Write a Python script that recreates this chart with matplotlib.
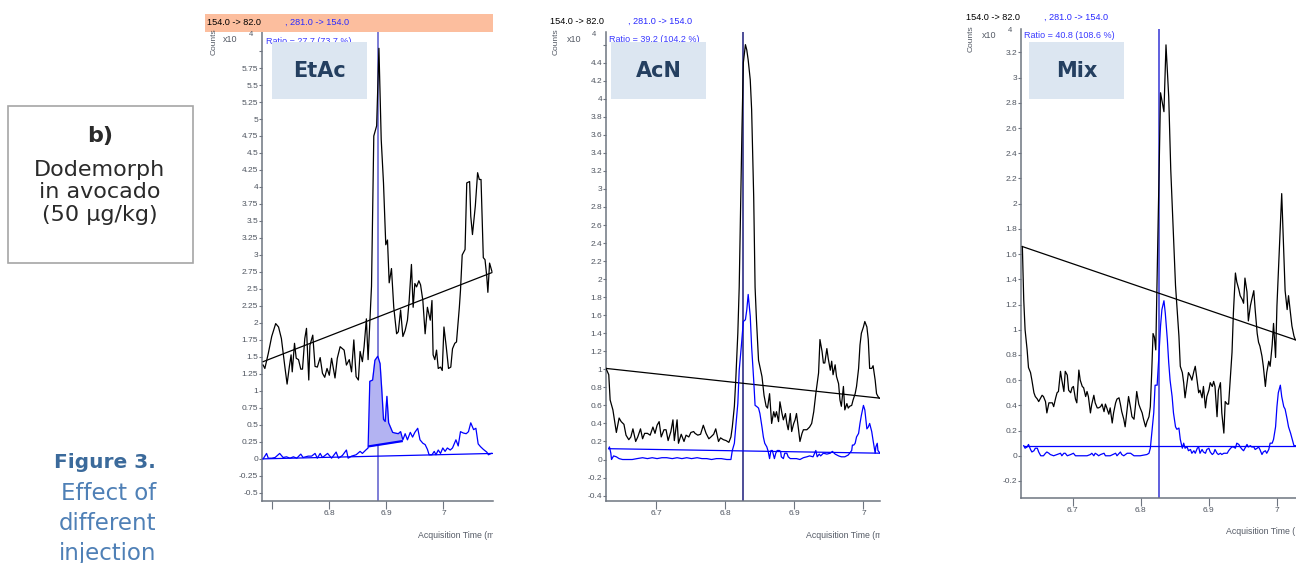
import numpy as np
import matplotlib
matplotlib.use("Agg")
import matplotlib.pyplot as plt
from matplotlib.patches import Rectangle
from matplotlib.transforms import Bbox, TransformedBbox

plt.rcParams['font.family'] = ['Liberation Sans', 'DejaVu Sans']

W, H = 1296, 563

# ---------------- data (time in min, counts x10^4) ----------------
# EtAc
etac_t = [6.684, 6.687, 6.693, 6.699, 6.706, 6.711, 6.716, 6.722, 6.726, 6.730, 6.733, 6.735, 6.739, 6.742,
          6.746, 6.750, 6.753, 6.757, 6.760, 6.764, 6.766, 6.771, 6.775, 6.779, 6.784, 6.788, 6.792, 6.796,
          6.800, 6.804, 6.810, 6.814, 6.819, 6.826, 6.830, 6.835, 6.839, 6.843, 6.847, 6.851, 6.854, 6.858,
          6.861, 6.865, 6.868, 6.874, 6.878, 6.883, 6.887, 6.891, 6.895, 6.899, 6.902, 6.905, 6.909, 6.913,
          6.918, 6.921, 6.925, 6.929, 6.933, 6.937, 6.940, 6.944, 6.947, 6.950, 6.953, 6.957, 6.960, 6.964,
          6.968, 6.972, 6.977, 6.980, 6.982, 6.985, 6.988, 6.991, 6.995, 6.998, 7.001, 7.005, 7.009, 7.013,
          7.016, 7.020, 7.023, 7.028, 7.030, 7.033, 7.038, 7.041, 7.046, 7.048, 7.051, 7.056, 7.060, 7.063,
          7.066, 7.070, 7.073, 7.076, 7.078, 7.081, 7.085]
etac_quant = [1.38, 1.33, 1.55, 1.80, 1.99, 1.94, 1.77, 1.36, 1.10, 1.36, 1.53, 1.28, 1.70, 1.48,
              1.46, 1.32, 1.32, 1.77, 1.92, 1.16, 1.67, 1.82, 1.36, 1.35, 1.49, 1.26, 1.20, 1.33,
              1.23, 1.48, 1.19, 1.48, 1.65, 1.60, 1.38, 1.46, 1.28, 1.75, 1.21, 1.16, 1.58, 1.43,
              1.65, 2.06, 1.46, 2.54, 4.75, 4.90, 6.04, 4.70, 4.06, 3.15, 3.22, 2.59, 2.80, 2.23,
              1.84, 1.87, 2.19, 1.80, 1.89, 2.04, 2.33, 2.86, 2.23, 2.58, 2.53, 2.62, 2.56, 2.33,
              1.84, 2.23, 2.04, 2.33, 1.53, 1.46, 1.60, 1.33, 1.35, 1.30, 1.94, 1.65, 1.33, 1.35,
              1.62, 1.70, 1.72, 2.23, 2.48, 3.00, 3.08, 4.06, 4.08, 3.57, 3.30, 3.72, 4.21, 4.11,
              4.11, 2.96, 2.93, 2.69, 2.45, 2.88, 2.76]
etac_qual_t = [6.684, 6.690, 6.693, 6.699, 6.705, 6.713, 6.719, 6.725, 6.731, 6.737, 6.743, 6.750, 6.754,
               6.763, 6.769, 6.775, 6.779, 6.784, 6.788, 6.797, 6.804, 6.812, 6.816, 6.823, 6.830, 6.833,
               6.839, 6.847, 6.854, 6.858, 6.864, 6.868, 6.871, 6.876, 6.880, 6.885, 6.889, 6.892, 6.895,
               6.898, 6.901, 6.904, 6.908, 6.911, 6.915, 6.921, 6.925, 6.929, 6.933, 6.937, 6.942, 6.946,
               6.950, 6.955, 6.959, 6.964, 6.968, 6.972, 6.975, 6.980, 6.984, 6.987, 6.991, 6.995, 6.999,
               7.003, 7.007, 7.012, 7.016, 7.022, 7.026, 7.030, 7.035, 7.040, 7.044, 7.048, 7.053, 7.057,
               7.061, 7.065, 7.070, 7.076, 7.079, 7.084]
etac_qual = [0.00, 0.08, 0.01, 0.01, 0.02, 0.08, 0.02, 0.03, 0.01, 0.03, 0.01, 0.07, 0.02,
             0.04, 0.04, 0.08, 0.01, 0.08, 0.02, 0.08, 0.01, 0.10, 0.01, 0.05, 0.13, 0.01,
             0.04, 0.06, 0.11, 0.08, 0.13, 0.16, 1.14, 1.16, 1.45, 1.51, 1.40, 1.01, 0.58,
             0.55, 0.92, 0.53, 0.45, 0.39, 0.38, 0.37, 0.40, 0.28, 0.37, 0.28, 0.39, 0.32,
             0.39, 0.45, 0.28, 0.23, 0.21, 0.14, 0.06, 0.06, 0.11, 0.06, 0.13, 0.08, 0.16,
             0.11, 0.16, 0.13, 0.16, 0.28, 0.19, 0.40, 0.38, 0.37, 0.40, 0.53, 0.43, 0.45,
             0.22, 0.18, 0.14, 0.10, 0.06, 0.08]
etac_base_t, etac_base = [6.684, 7.085], [1.43, 2.74]
etac_qbase_t, etac_qbase = [6.684, 7.088], [0.00, 0.08]
etac_int_t, etac_int = [6.870, 6.927], [0.185, 0.26]
etac_rt = 6.885

# AcN
acn_t = [6.627, 6.631, 6.633, 6.637, 6.640, 6.642, 6.646, 6.649, 6.653, 6.656, 6.660, 6.663, 6.666, 6.670,
         6.673, 6.677, 6.680, 6.683, 6.687, 6.691, 6.695, 6.698, 6.701, 6.704, 6.707, 6.711, 6.714, 6.717,
         6.721, 6.724, 6.726, 6.730, 6.732, 6.736, 6.740, 6.743, 6.747, 6.750, 6.754, 6.756, 6.760, 6.764,
         6.768, 6.772, 6.776, 6.779, 6.783, 6.786, 6.790, 6.793, 6.797, 6.801, 6.805, 6.808, 6.810, 6.813,
         6.815, 6.818, 6.820, 6.824, 6.826, 6.829, 6.831, 6.833, 6.836, 6.838, 6.841, 6.843, 6.845, 6.848,
         6.850, 6.853, 6.856, 6.859, 6.861, 6.864, 6.867, 6.870, 6.872, 6.874, 6.877, 6.879, 6.882, 6.884,
         6.887, 6.889, 6.891, 6.894, 6.896, 6.899, 6.901, 6.903, 6.906, 6.908, 6.911, 6.913, 6.918, 6.922,
         6.925, 6.928, 6.931, 6.935, 6.937, 6.940, 6.942, 6.944, 6.947, 6.949, 6.952, 6.954, 6.956, 6.959,
         6.961, 6.964, 6.966, 6.968, 6.971, 6.973, 6.976, 6.978, 6.980, 6.983, 6.985, 6.988, 6.990, 6.993,
         6.995, 6.997, 7.000, 7.002, 7.005, 7.007, 7.009, 7.012, 7.014, 7.017, 7.019, 7.021, 7.023]
acn_quant = [1.01, 0.94, 0.66, 0.55, 0.40, 0.30, 0.46, 0.42, 0.39, 0.27, 0.22, 0.25, 0.34, 0.20,
             0.25, 0.34, 0.23, 0.29, 0.29, 0.27, 0.36, 0.29, 0.38, 0.42, 0.25, 0.33, 0.33, 0.21,
             0.31, 0.44, 0.21, 0.44, 0.18, 0.28, 0.20, 0.27, 0.25, 0.30, 0.31, 0.29, 0.27, 0.28,
             0.38, 0.29, 0.23, 0.25, 0.28, 0.34, 0.20, 0.24, 0.22, 0.21, 0.19, 0.25, 0.36, 0.59,
             0.88, 1.40, 1.91, 3.66, 4.40, 4.60, 4.54, 4.43, 4.21, 3.88, 2.91, 1.91, 1.55, 1.10,
             1.03, 0.92, 0.71, 0.59, 0.57, 0.73, 0.40, 0.53, 0.47, 0.53, 0.42, 0.64, 0.51, 0.44,
             0.51, 0.40, 0.33, 0.51, 0.31, 0.40, 0.44, 0.51, 0.33, 0.20, 0.29, 0.33, 0.33, 0.36,
             0.40, 0.53, 0.73, 0.96, 1.33, 1.20, 1.07, 1.07, 1.23, 1.12, 0.99, 1.09, 0.94, 1.05,
             0.92, 0.84, 0.66, 0.59, 0.81, 0.55, 0.62, 0.57, 0.59, 0.60, 0.66, 0.73, 0.81, 1.01,
             1.27, 1.40, 1.47, 1.53, 1.47, 1.33, 1.01, 1.01, 1.04, 0.88, 0.73, 0.70, 0.68]
acn_qual_t = [6.631, 6.632, 6.634, 6.635, 6.638, 6.642, 6.646, 6.651, 6.658, 6.665, 6.672, 6.680, 6.687,
              6.694, 6.701, 6.708, 6.715, 6.723, 6.730, 6.737, 6.744, 6.751, 6.759, 6.766, 6.773, 6.780,
              6.787, 6.794, 6.802, 6.808, 6.810, 6.813, 6.815, 6.818, 6.820, 6.823, 6.826, 6.829, 6.831,
              6.833, 6.836, 6.838, 6.841, 6.843, 6.845, 6.848, 6.850, 6.853, 6.855, 6.857, 6.860, 6.862,
              6.864, 6.866, 6.868, 6.871, 6.873, 6.875, 6.878, 6.880, 6.881, 6.884, 6.886, 6.889, 6.891,
              6.894, 6.899, 6.903, 6.908, 6.913, 6.918, 6.922, 6.927, 6.931, 6.933, 6.936, 6.938, 6.942,
              6.947, 6.952, 6.955, 6.959, 6.964, 6.968, 6.973, 6.978, 6.980, 6.983, 6.984, 6.986, 6.988,
              6.990, 6.993, 6.995, 6.997, 7.000, 7.002, 7.005, 7.007, 7.009, 7.012, 7.014, 7.017, 7.018,
              7.020, 7.021, 7.024]
acn_qual = [0.12, 0.14, 0.07, 0.00, 0.04, 0.03, 0.01, 0.00, 0.00, 0.00, 0.01, 0.02, 0.01,
            0.02, 0.01, 0.02, 0.02, 0.01, 0.02, 0.01, 0.02, 0.01, 0.02, 0.01, 0.01, 0.00,
            0.01, 0.01, 0.00, 0.00, 0.10, 0.18, 0.36, 0.62, 0.99, 1.25, 1.53, 1.55, 1.66,
            1.83, 1.59, 1.25, 0.88, 0.60, 0.59, 0.57, 0.51, 0.36, 0.25, 0.18, 0.14, 0.09,
            0.01, 0.10, 0.10, 0.01, 0.07, 0.10, 0.10, 0.09, 0.03, 0.01, 0.07, 0.07, 0.03,
            0.01, 0.01, 0.01, 0.00, 0.02, 0.03, 0.04, 0.03, 0.10, 0.03, 0.06, 0.04, 0.07,
            0.06, 0.07, 0.09, 0.06, 0.04, 0.03, 0.03, 0.05, 0.07, 0.10, 0.16, 0.16, 0.18,
            0.25, 0.29, 0.40, 0.49, 0.60, 0.55, 0.34, 0.36, 0.40, 0.31, 0.21, 0.07, 0.14,
            0.18, 0.10, 0.07]
acn_base_t, acn_base = [6.627, 7.024], [1.01, 0.68]
acn_qbase_t, acn_qbase = [6.631, 7.024], [0.12, 0.07]
acn_rt = 6.826

# Mix
mix_t = [6.626, 6.628, 6.630, 6.633, 6.635, 6.638, 6.640, 6.643, 6.645, 6.648, 6.650, 6.653, 6.655, 6.657,
         6.660, 6.662, 6.665, 6.667, 6.670, 6.672, 6.675, 6.677, 6.679, 6.682, 6.684, 6.687, 6.689, 6.692,
         6.694, 6.697, 6.699, 6.701, 6.704, 6.706, 6.709, 6.711, 6.714, 6.716, 6.719, 6.721, 6.723, 6.726,
         6.728, 6.731, 6.733, 6.736, 6.738, 6.741, 6.743, 6.746, 6.748, 6.750, 6.753, 6.755, 6.758, 6.760,
         6.763, 6.765, 6.768, 6.770, 6.772, 6.775, 6.777, 6.780, 6.782, 6.785, 6.787, 6.790, 6.792, 6.794,
         6.797, 6.799, 6.802, 6.804, 6.807, 6.809, 6.812, 6.814, 6.816, 6.818, 6.820, 6.822, 6.829, 6.834,
         6.837, 6.841, 6.844, 6.848, 6.851, 6.853, 6.856, 6.858, 6.861, 6.863, 6.865, 6.868, 6.870, 6.873,
         6.875, 6.878, 6.880, 6.883, 6.885, 6.887, 6.890, 6.892, 6.895, 6.897, 6.900, 6.902, 6.905, 6.907,
         6.909, 6.912, 6.914, 6.917, 6.919, 6.922, 6.924, 6.927, 6.929, 6.932, 6.934, 6.936, 6.939, 6.941,
         6.944, 6.946, 6.949, 6.951, 6.953, 6.956, 6.958, 6.961, 6.963, 6.966, 6.968, 6.971, 6.973, 6.975,
         6.978, 6.980, 6.983, 6.985, 6.988, 6.990, 6.993, 6.995, 6.998, 7.000, 7.007, 7.012, 7.015, 7.017,
         7.020, 7.022, 7.025, 7.027]
mix_quant = [1.66, 1.24, 1.00, 0.84, 0.70, 0.66, 0.60, 0.50, 0.47, 0.45, 0.43, 0.46, 0.48, 0.47,
             0.43, 0.34, 0.42, 0.42, 0.42, 0.39, 0.46, 0.50, 0.51, 0.67, 0.60, 0.51, 0.67, 0.64,
             0.52, 0.50, 0.54, 0.55, 0.45, 0.42, 0.68, 0.60, 0.55, 0.54, 0.47, 0.51, 0.47, 0.34,
             0.41, 0.48, 0.42, 0.38, 0.38, 0.39, 0.41, 0.35, 0.41, 0.38, 0.33, 0.38, 0.26, 0.34,
             0.42, 0.45, 0.46, 0.41, 0.35, 0.29, 0.23, 0.37, 0.47, 0.38, 0.31, 0.29, 0.39, 0.51,
             0.41, 0.38, 0.34, 0.29, 0.23, 0.27, 0.31, 0.39, 0.66, 0.97, 0.94, 0.84, 2.88, 2.73,
             3.26, 2.85, 2.27, 1.74, 1.35, 1.19, 0.95, 0.71, 0.66, 0.58, 0.46, 0.58, 0.66, 0.63,
             0.60, 0.67, 0.71, 0.58, 0.50, 0.52, 0.46, 0.55, 0.38, 0.47, 0.52, 0.58, 0.55, 0.59,
             0.55, 0.31, 0.52, 0.58, 0.34, 0.18, 0.43, 0.41, 0.41, 0.66, 0.82, 1.13, 1.45, 1.38,
             1.32, 1.27, 1.24, 1.21, 1.41, 1.30, 1.07, 1.19, 1.24, 1.31, 1.16, 0.97, 0.90, 0.87,
             0.79, 0.71, 0.55, 0.66, 0.75, 0.71, 0.88, 1.05, 0.78, 1.19, 2.08, 1.31, 1.16, 1.27,
             1.13, 1.03, 0.95, 0.92]
mix_qual_t = [6.628, 6.630, 6.633, 6.635, 6.638, 6.640, 6.643, 6.645, 6.648, 6.650, 6.653, 6.657, 6.660,
              6.662, 6.665, 6.667, 6.672, 6.677, 6.682, 6.684, 6.687, 6.689, 6.692, 6.697, 6.701, 6.704,
              6.711, 6.721, 6.726, 6.728, 6.731, 6.733, 6.736, 6.738, 6.741, 6.746, 6.748, 6.755, 6.763,
              6.765, 6.770, 6.772, 6.775, 6.780, 6.785, 6.790, 6.799, 6.809, 6.812, 6.814, 6.816, 6.819,
              6.821, 6.824, 6.826, 6.829, 6.831, 6.834, 6.836, 6.839, 6.841, 6.843, 6.846, 6.848, 6.851,
              6.853, 6.856, 6.858, 6.861, 6.863, 6.865, 6.868, 6.870, 6.873, 6.875, 6.878, 6.880, 6.883,
              6.885, 6.887, 6.890, 6.892, 6.895, 6.897, 6.900, 6.902, 6.905, 6.907, 6.909, 6.912, 6.914,
              6.917, 6.919, 6.922, 6.927, 6.929, 6.932, 6.934, 6.936, 6.939, 6.941, 6.944, 6.946, 6.949,
              6.951, 6.953, 6.956, 6.958, 6.961, 6.963, 6.966, 6.968, 6.971, 6.973, 6.975, 6.978, 6.980,
              6.983, 6.985, 6.988, 6.990, 6.993, 6.995, 6.998, 7.000, 7.002, 7.005, 7.007, 7.010, 7.012,
              7.015, 7.017, 7.020, 7.022, 7.025, 7.027]
mix_qual = [0.08, 0.06, 0.07, 0.09, 0.05, 0.03, 0.04, 0.06, 0.06, 0.03, 0.00, 0.00, 0.02,
            0.03, 0.02, 0.01, 0.00, 0.01, 0.02, 0.00, 0.02, 0.02, 0.00, 0.01, 0.02, 0.00,
            0.00, 0.00, 0.01, 0.02, 0.00, 0.02, 0.01, 0.00, 0.01, 0.02, 0.00, 0.00, 0.02,
            0.00, 0.03, 0.01, 0.00, 0.02, 0.02, 0.00, 0.00, 0.01, 0.02, 0.06, 0.17, 0.34,
            0.56, 0.56, 0.74, 1.03, 1.16, 1.23, 1.13, 0.92, 0.74, 0.60, 0.47, 0.34, 0.23,
            0.21, 0.22, 0.13, 0.06, 0.10, 0.06, 0.07, 0.04, 0.05, 0.02, 0.04, 0.02, 0.06,
            0.07, 0.02, 0.05, 0.03, 0.02, 0.05, 0.06, 0.03, 0.01, 0.02, 0.05, 0.02, 0.01,
            0.02, 0.01, 0.02, 0.02, 0.04, 0.06, 0.07, 0.07, 0.06, 0.10, 0.09, 0.07, 0.05,
            0.04, 0.06, 0.09, 0.07, 0.08, 0.07, 0.07, 0.05, 0.06, 0.07, 0.05, 0.01, 0.03,
            0.04, 0.02, 0.05, 0.10, 0.10, 0.13, 0.23, 0.39, 0.50, 0.56, 0.47, 0.39, 0.37,
            0.29, 0.23, 0.18, 0.14, 0.08, 0.08]
mix_base_t, mix_base = [6.626, 7.027], [1.66, 0.92]
mix_qbase_t, mix_qbase = [6.628, 7.028], [0.08, 0.08]
mix_rt = 6.827

names = ["EtAc", "AcN", "Mix"]
ratios = ["Ratio = 27.7 (73.7 %)", "Ratio = 39.2 (104.2 %)", "Ratio = 40.8 (108.6 %)"]
quant_label = "154.0 -> 82.0"
qual_label = ", 281.0 -> 154.0"
x_ticks = [6.7, 6.8, 6.9, 7.0]

fig = plt.figure(figsize=(W / 100, H / 100), dpi=100)


def fx(px):
    return px / W


def fy(py):
    return 1 - py / H


def ftext(px, py, s, **kw):
    return fig.text(fx(px), fy(py), s, **kw)


def box(px, py, w, h, **kw):
    r = Rectangle((fx(px), fy(py + h)), w / W, h / H, transform=fig.transFigure, **kw)
    fig.add_artist(r)
    return r


SPINE = "#6e7580"
TICKC = "#4f5560"


def panel(rect, xlim, ylim, yticks, hide_y, xlabels,
          qt, q, lt, l, bt, b, qbt, qb):
    left, right, top, bottom = rect
    ax = fig.add_axes([fx(left), fy(bottom), (right - left) / W, (bottom - top) / H])
    ax.plot(qt, q, color="black", lw=0.9, zorder=3)
    ax.plot(bt, b, color="black", lw=0.9, zorder=3)
    ax.plot(lt, l, color="#0000ff", lw=0.9, zorder=4)
    ax.plot(qbt, qb, color="#0000ff", lw=0.9, zorder=4)
    ax.set_xlim(*xlim)
    ax.set_ylim(*ylim)
    ax.set_xticks(x_ticks)
    ax.set_xticklabels(xlabels)
    ax.set_yticks(yticks)
    ax.set_yticklabels(["" if abs(v - hide_y) < 1e-6 else f"{v:g}" for v in yticks])
    for s in ["top", "right"]:
        ax.spines[s].set_visible(False)
    for s in ["left", "bottom"]:
        ax.spines[s].set_color(SPINE)
        ax.spines[s].set_linewidth(1.1)
    ax.tick_params(axis="y", length=2.5, width=0.8, pad=0.3, labelsize=6, color=SPINE, labelcolor=TICKC)
    ax.tick_params(axis="x", length=6, width=0.8, pad=0.5, labelsize=6, color=SPINE, labelcolor=TICKC)
    ax.patch.set_alpha(0)
    return ax


ax1 = panel((262, 493, 32, 501), (6.682, 7.087), (-0.62, 6.28),
            np.round(np.arange(-0.5, 6.01, 0.25), 2), 6.0, ["", "6.8", "6.9", "7"],
            etac_t, etac_quant, etac_qual_t, etac_qual, etac_base_t, etac_base, etac_qbase_t, etac_qbase)
ax2 = panel((606, 880, 32, 501), (6.627, 7.024), (-0.46, 4.74),
            np.round(np.arange(-0.4, 4.61, 0.2), 1), 4.6, ["6.7", "6.8", "6.9", "7"],
            acn_t, acn_quant, acn_qual_t, acn_qual, acn_base_t, acn_base, acn_qbase_t, acn_qbase)
ax3 = panel((1021, 1296, 29, 498), (6.624, 7.028), (-0.335, 3.386),
            np.round(np.arange(-0.2, 3.21, 0.2), 1), 99, ["6.7", "6.8", "6.9", "7"],
            mix_t, mix_quant, mix_qual_t, mix_qual, mix_base_t, mix_base, mix_qbase_t, mix_qbase)

# retention time markers
ax1.axvline(etac_rt, color="#5a5acc", lw=1.1, zorder=2)
ax2.axvline(acn_rt, color="#1c1c7a", lw=1.1, zorder=2)
ax3.axvline(mix_rt, color="#3434d4", lw=1.1, zorder=2)

# integrated qualifier peak (EtAc)
sel = [(t, v) for t, v in zip(etac_qual_t, etac_qual) if etac_int_t[0] < t < etac_int_t[1]]
poly_t = [etac_int_t[0]] + [p[0] for p in sel] + [etac_int_t[1]]
poly_v = [etac_int[0]] + [p[1] for p in sel] + [etac_int[1]]
ax1.fill(poly_t, poly_v, color="#b3b3f2", zorder=3)
ax1.plot(etac_int_t, etac_int, color="#0000ff", lw=1.6, zorder=4)

# headers
box(205, 14, 288, 18, facecolor="#fcbe9e", edgecolor="none", zorder=1)
heads = [(207, 285, 22.5), (550, 628, 21), (966, 1044, 17)]
for (x1, x2, y) in heads:
    ftext(x1, y, quant_label, fontsize=6.6, color="black", va="center", zorder=3)
    ftext(x2, y, qual_label, fontsize=6.6, color="#2b2bff", va="center", zorder=3)

# counts / exponent
for (cx, cy, xx, ex, ey) in [(214, 42, 223, 249, 34), (556, 42, 567, 592, 34), (971, 39, 982, 1008, 31)]:
    ftext(cx, cy, "Counts", fontsize=6, color="#555b66", rotation=90, ha="center", va="center")
    ftext(xx, ey + 5, "x10", fontsize=6.5, color="#555b66", va="center")
    ftext(ex, ey, "4", fontsize=5.5, color="#555b66", va="center")

# ratio text and solvent labels
for (rx, ry), (bx, by), name, rtext in zip([(266, 41), (609, 40), (1024, 35)],
                                           [(272, 42), (611, 42), (1029, 42)], names, ratios):
    ftext(rx, ry, rtext, fontsize=6.5, color="#3a3aff", va="center", zorder=2)
    box(bx, by, 95, 57, facecolor="#dce6f1", edgecolor="none", zorder=4)
    ftext(bx + 47.5, by + 29, name, fontsize=15, fontweight="bold", color="#243f60",
          family="DejaVu Sans", ha="center", va="center", zorder=5)

# x-axis titles, clipped at the axis end like the source
for (px, py, right) in [(418, 535, 493), (806, 535, 880)]:
    t = ftext(px, py, "Acquisition Time (min)", fontsize=6.3, color="#555b66", va="center")
    t.set_clip_box(TransformedBbox(Bbox.from_extents(0, 0, fx(right), 1), fig.transFigure))
    t.set_clip_on(True)
ftext(1295, 531, "Acquisition Time (", fontsize=6.3, color="#555b66", va="center", ha="right")

# left caption box
box(8, 106, 185, 157, facecolor="white", edgecolor="#a6a6a6", lw=1.2, zorder=1)
cap = [("b)", 142, "bold"), ("Dodemorph", 176, "normal"), ("in avocado", 198, "normal"),
       ("(50 \u00b5g/kg)", 221, "normal")]
for s, y, w in cap:
    ftext(100, y, s, fontsize=16, fontweight=w, color="#2a2a2a", family="DejaVu Sans",
          ha="center", va="baseline", zorder=3)

fig_lines = [("Figure 3.", 468, "bold", "#3b6a9b", 14.5), ("Effect of", 500, "normal", "#4f80b6", 16.5),
             ("different", 530, "normal", "#4f80b6", 16.5), ("injection", 560, "normal", "#4f80b6", 16.5)]
for s, y, w, c, size in fig_lines:
    ftext(156, y, s, fontsize=size, fontweight=w, color=c, family="DejaVu Sans",
          ha="right", va="baseline")

fig.savefig("out.png", dpi=100)
